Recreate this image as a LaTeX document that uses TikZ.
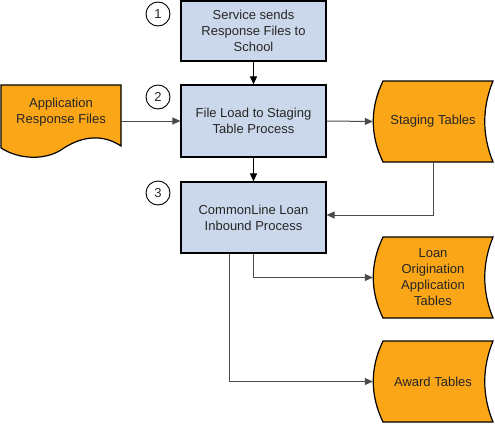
\documentclass[tikz,border=0pt]{standalone}
\usepackage{fontspec}
\setmainfont{Liberation Sans}
\usetikzlibrary{arrows.meta}

\definecolor{procblue}{HTML}{CBD8EB}
\definecolor{dataorange}{HTML}{FBA617}
\definecolor{linegrey}{HTML}{4A4A4A}

\tikzset{
	process/.style={draw, line width=1.2pt, fill=procblue, minimum width=145pt, align=center, inner sep=0pt},
	datatext/.style={minimum width=120pt, minimum height=81pt, align=center, inner sep=0pt},
	stepnum/.style={draw, circle, line width=0.9pt, minimum size=24pt, inner sep=0pt},
	flow/.style={draw=linegrey, line width=1pt, -{Triangle[length=8pt, width=7pt]}},
	shapeline/.style={draw, line width=1.2pt, fill=dataorange}
}

\begin{document}
\begin{tikzpicture}[x=1pt, y=-1pt, font=\fontsize{13}{16}\selectfont, text=black!85]

	\useasboundingbox (0,0) rectangle (495,423);

	% process boxes
	\node[process, minimum height=60pt] (sends) at (253.5,31) {Service sends\\Response Files to\\School};
	\node[process, minimum height=72pt] (load) at (253.5,121) {File Load to Staging\\Table Process};
	\node[process, minimum height=71pt] (inbound) at (253.5,217.5) {CommonLine Loan\\Inbound Process};

	\node[stepnum] (one) at (158,14) {1};
	\node[stepnum] (two) at (158,97) {2};
	\node[stepnum] (three) at (158,193) {3};

	% document shape
	\draw[shapeline] (1,85) -- (121,85) -- (121,146) .. controls (100,132) and (78,138) .. (61,150)
		.. controls (45,160) and (20,160) .. (1,148) -- cycle;
	\node[minimum width=120pt, align=center, inner sep=0pt] (appfiles) at (61,112) {Application\\Response Files};

	% stored data shapes
	\draw[shapeline] (383,81) -- (493,81) .. controls (482,108) and (482,135) .. (493,162)
		-- (383,162) .. controls (370,135) and (370,108) .. (383,81) -- cycle;
	\node[datatext] (staging) at (433,121.5) {Staging Tables};

	\draw[shapeline] (383,237) -- (493,237) .. controls (482,264) and (482,291) .. (493,318)
		-- (383,318) .. controls (370,291) and (370,264) .. (383,237) -- cycle;
	\node[datatext] (loan) at (433,277.5) {Loan\\Origination\\Application\\Tables};

	\draw[shapeline] (383,341) -- (493,341) .. controls (482,368) and (482,395) .. (493,422)
		-- (383,422) .. controls (370,395) and (370,368) .. (383,341) -- cycle;
	\node[datatext] (award) at (433,381.5) {Award Tables};

	% connectors
	\draw[flow, draw=black] (sends) -- (load);
	\draw[flow, draw=black] (load) -- (inbound);
	\draw[flow] (appfiles.east |- load.west) -- (load.west);
	\draw[flow] (load.east) -- (staging.west);
	\draw[flow] (staging.south) |- ([yshift=2.5pt]inbound.east);
	\draw[flow] (inbound.south) |- (loan.west);
	\draw[flow] ([xshift=-24pt]inbound.south) |- (award.west);

\end{tikzpicture}
\end{document}
